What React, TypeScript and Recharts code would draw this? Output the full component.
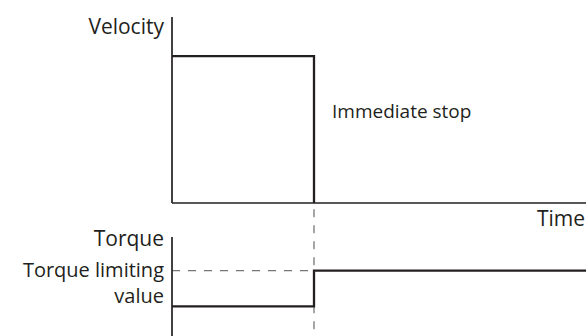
import { LineChart, Line, XAxis, YAxis, ReferenceLine, Label } from 'recharts'

const FONT = '"Open Sans", "Noto Sans", sans-serif'
const INK = '#231f20'
const DASH = '#76777a'

// time axis (arbitrary units), stop happens at stopTime
const velocityTimes = [0, 3.43, 3.43]
const velocity = [79, 79, 0]
const torqueTimes = [0, 3.43, 3.43, 10]
const torque = [30, 30, 66, 66]
const stopTime = 3.43
const torqueLimit = 66
const timeDomain = [0, 10]
const valueDomain = [0, 100]
const limitLabel = ['Torque limiting', 'value']

const velocityData = velocityTimes.map((t, i) => ({ t, v: velocity[i] }))
const torqueData = torqueTimes.map((t, i) => ({ t, q: torque[i] }))

function LimitTick({ x, y }: any) {
  return (
    <text x={x} y={y} textAnchor="end" fontFamily={FONT} fontSize={20} fill={INK}>
      {limitLabel.map((s, i) => (
        <tspan key={i} x={x} dy={i === 0 ? '0.32em' : 26}>
          {s}
        </tspan>
      ))}
    </text>
  )
}

export default function App() {
  return (
    <div style={{ position: 'absolute', left: 0, top: 0, width: 586, height: 336, background: '#fff' }}>
      <div style={{ position: 'absolute', left: 0, top: 0 }}>
        <LineChart width={586} height={336} data={velocityData} margin={{ top: 17, right: 0, bottom: 99, left: 0 }}>
          <XAxis
            type="number"
            dataKey="t"
            domain={timeDomain}
            tick={false}
            tickLine={false}
            height={34}
            axisLine={{ stroke: INK, strokeWidth: 1.7 }}
            label={{
              content: ({ viewBox }: any) => (
                <text x={viewBox.x + viewBox.width - 1} y={viewBox.y + 23} textAnchor="end" fontFamily={FONT} fontSize={21} fill={INK}>
                  Time
                </text>
              ),
            }}
          />
          <YAxis
            domain={valueDomain}
            tick={false}
            tickLine={false}
            width={172}
            axisLine={{ stroke: INK, strokeWidth: 1.7 }}
            label={{
              content: ({ viewBox }: any) => (
                <text x={viewBox.x + viewBox.width - 8} y={viewBox.y + 17} textAnchor="end" fontFamily={FONT} fontSize={21} fill={INK}>
                  Velocity
                </text>
              ),
            }}
          />
          <ReferenceLine x={stopTime} stroke="none">
            <Label
              content={({ viewBox }: any) => (
                <text x={viewBox.x + 18} y={viewBox.y + 101} fontFamily={FONT} fontSize={19} fill={INK}>
                  Immediate stop
                </text>
              )}
            />
          </ReferenceLine>
          <Line
            type="linear"
            dataKey="v"
            stroke={INK}
            strokeWidth={2.3}
            dot={false}
            isAnimationActive={false}
          />
        </LineChart>
      </div>
      <div style={{ position: 'absolute', left: 0, top: 0 }}>
        <LineChart width={586} height={336} data={torqueData} margin={{ top: 237, right: 0, bottom: 0, left: 0 }}>
          <XAxis type="number" dataKey="t" domain={timeDomain} hide />
          <YAxis
            domain={valueDomain}
            ticks={[torqueLimit]}
            tick={<LimitTick />}
            tickLine={false}
            width={172}
            axisLine={{ stroke: INK, strokeWidth: 1.7 }}
            label={{
              content: ({ viewBox }: any) => (
                <text x={viewBox.x + viewBox.width - 8} y={viewBox.y + 9} textAnchor="end" fontFamily={FONT} fontSize={21} fill={INK}>
                  Torque
                </text>
              ),
            }}
          />
          <ReferenceLine
            segment={[{ x: 0, y: torqueLimit }, { x: stopTime, y: torqueLimit }]}
            stroke={DASH}
            strokeWidth={1.3}
            strokeDasharray="8 8"
          />
          <ReferenceLine
            segment={[{ x: stopTime, y: 133 }, { x: stopTime, y: 0 }]}
            ifOverflow="visible"
            stroke={DASH}
            strokeWidth={1.3}
            strokeDasharray="8 8"
            strokeDashoffset={11}
          />
          <Line
            type="linear"
            dataKey="q"
            stroke={INK}
            strokeWidth={2.3}
            dot={false}
            isAnimationActive={false}
          />
        </LineChart>
      </div>
    </div>
  )
}
